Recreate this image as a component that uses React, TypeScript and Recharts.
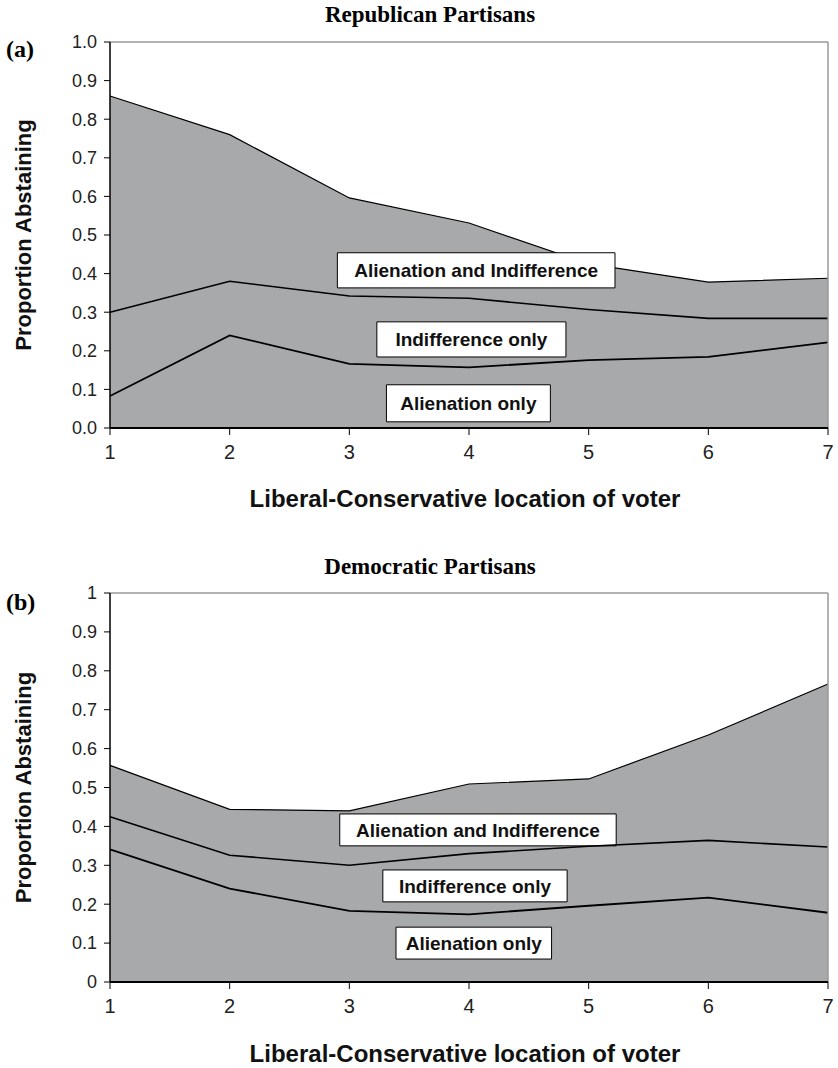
import React from "react";
import {
    Area,
    ComposedChart,
    Line,
    ReferenceArea,
    ReferenceLine,
    XAxis,
    YAxis,
} from "recharts";

// voter location on the liberal-conservative scale
const positions = [1, 2, 3, 4, 5, 6, 7];
const yTicks = [0, 0.1, 0.2, 0.3, 0.4, 0.5, 0.6, 0.7, 0.8, 0.9, 1];

// Republican partisans (cumulative lines)
const repAlienationOnly = [0.083, 0.24, 0.166, 0.157, 0.176, 0.184, 0.222];
const repIndifferenceTop = [0.3, 0.38, 0.342, 0.336, 0.307, 0.284, 0.284];
const repTotal = [0.86, 0.76, 0.596, 0.531, 0.425, 0.378, 0.388];

// Democratic partisans (cumulative lines)
const demAlienationOnly = [0.341, 0.24, 0.183, 0.174, 0.196, 0.217, 0.178];
const demIndifferenceTop = [0.425, 0.326, 0.3, 0.33, 0.349, 0.364, 0.347];
const demTotal = [0.557, 0.444, 0.44, 0.509, 0.522, 0.635, 0.766];

const boxLabels = ["Alienation and Indifference", "Indifference only", "Alienation only"];

// label boxes in data units: [x1, x2, y1, y2]
const repBoxes = [
    [2.9, 5.22, 0.363, 0.454],
    [3.23, 4.81, 0.184, 0.275],
    [3.31, 4.68, 0.016, 0.112],
];
const demBoxes = [
    [2.92, 5.23, 0.35, 0.432],
    [3.28, 4.82, 0.206, 0.288],
    [3.39, 4.69, 0.059, 0.141],
];

const SANS = "'Liberation Sans', Arial, sans-serif";
const SERIF = "'Liberation Serif', 'Times New Roman', serif";
const FILL = "#a8a9ab";

type PanelProps = {
    top: number;
    letter: string;
    title: string;
    alienation: number[];
    indifference: number[];
    total: number[];
    boxes: number[][];
    marginTop: number;
    marginBottom: number;
    titleTop: number;
    letterTop: number;
    titleGap: number;
    tickFormat: (v: number) => string;
};

function Panel(props: PanelProps) {
    const data = positions.map((x, i) => ({
        x,
        alienation: props.alienation[i],
        indifference: props.indifference[i],
        total: props.total[i],
    }));

    return (
        <div style={{ position: "absolute", left: 0, top: props.top, width: 838, height: 534 }}>
            <ComposedChart
                width={838}
                height={534}
                data={data}
                margin={{ top: props.marginTop, right: 10, bottom: props.marginBottom, left: 10 }}
            >
                <XAxis
                    dataKey="x"
                    type="number"
                    domain={[1, 7]}
                    ticks={positions}
                    height={80}
                    axisLine={{ stroke: "#000", strokeWidth: 2 }}
                    tickLine={{ stroke: "#000" }}
                    tickSize={7}
                    tickMargin={10}
                    tick={{ fill: "#222", fontSize: 20, fontFamily: SANS }}
                    label={{
                        content: ({ viewBox }: any) => (
                            <text
                                x={viewBox.x + viewBox.width / 2 - 4}
                                y={viewBox.y + props.titleGap}
                                textAnchor="middle"
                                dominantBaseline="central"
                                fontFamily={SANS}
                                fontWeight="bold"
                                fontSize={24}
                                fill="#111"
                            >
                                Liberal-Conservative location of voter
                            </text>
                        ),
                    }}
                />
                <YAxis
                    type="number"
                    domain={[0, 1]}
                    ticks={yTicks}
                    width={100}
                    interval={0}
                    axisLine={{ stroke: "#000", strokeWidth: 1.5 }}
                    tickLine={{ stroke: "#000" }}
                    tickSize={6}
                    tickMargin={7}
                    tickFormatter={props.tickFormat}
                    tick={{ fill: "#222", fontSize: 18, fontFamily: SANS }}
                    label={{
                        content: ({ viewBox }: any) => {
                            const cx = viewBox.x + 13;
                            const cy = viewBox.y + viewBox.height / 2;
                            return (
                                <text
                                    x={cx}
                                    y={cy}
                                    transform={`rotate(-90, ${cx}, ${cy})`}
                                    textAnchor="middle"
                                    dominantBaseline="central"
                                    fontFamily={SANS}
                                    fontWeight="bold"
                                    fontSize={22}
                                    fill="#111"
                                >
                                    Proportion Abstaining
                                </text>
                            );
                        },
                    }}
                />
                <Area
                    type="linear"
                    dataKey="total"
                    fill={FILL}
                    fillOpacity={1}
                    stroke="#000"
                    strokeWidth={1.2}
                    isAnimationActive={false}
                />
                <Line
                    type="linear"
                    dataKey="indifference"
                    stroke="#000"
                    strokeWidth={1.6}
                    dot={false}
                    isAnimationActive={false}
                />
                <Line
                    type="linear"
                    dataKey="alienation"
                    stroke="#000"
                    strokeWidth={1.8}
                    dot={false}
                    isAnimationActive={false}
                />
                <ReferenceLine y={1} stroke="#999" strokeWidth={1.5} />
                <ReferenceLine x={7} stroke="#999" strokeWidth={1.5} />
                {props.boxes.map((b, i) => (
                    <ReferenceArea
                        key={boxLabels[i]}
                        x1={b[0]}
                        x2={b[1]}
                        y1={b[2]}
                        y2={b[3]}
                        fill="#fff"
                        fillOpacity={1}
                        stroke="#000"
                        strokeWidth={1}
                        label={{
                            value: boxLabels[i],
                            position: "center",
                            fill: "#111",
                            fontSize: 19,
                            fontWeight: "bold",
                            fontFamily: SANS,
                        }}
                    />
                ))}
            </ComposedChart>
            <div
                style={{
                    position: "absolute",
                    left: 0,
                    width: 860,
                    top: props.titleTop,
                    textAlign: "center",
                    fontFamily: SERIF,
                    fontWeight: "bold",
                    fontSize: 23,
                    lineHeight: "28px",
                }}
            >
                {props.title}
            </div>
            <div
                style={{
                    position: "absolute",
                    left: 6,
                    top: props.letterTop,
                    fontFamily: SERIF,
                    fontWeight: "bold",
                    fontSize: 24,
                    lineHeight: "28px",
                }}
            >
                {props.letter}
            </div>
        </div>
    );
}

export default function App() {
    return (
        <div style={{ position: "absolute", left: 0, top: 0, width: 838, height: 1068, background: "#fff" }}>
            <Panel
                top={0}
                letter="(a)"
                title="Republican Partisans"
                alienation={repAlienationOnly}
                indifference={repIndifferenceTop}
                total={repTotal}
                boxes={repBoxes}
                marginTop={42}
                marginBottom={26}
                titleTop={1}
                letterTop={35}
                titleGap={70}
                tickFormat={(v) => v.toFixed(1)}
            />
            <Panel
                top={534}
                letter="(b)"
                title="Democratic Partisans"
                alienation={demAlienationOnly}
                indifference={demIndifferenceTop}
                total={demTotal}
                boxes={demBoxes}
                marginTop={59}
                marginBottom={6}
                titleTop={19}
                letterTop={54}
                titleGap={71}
                tickFormat={(v) => String(v)}
            />
        </div>
    );
}
